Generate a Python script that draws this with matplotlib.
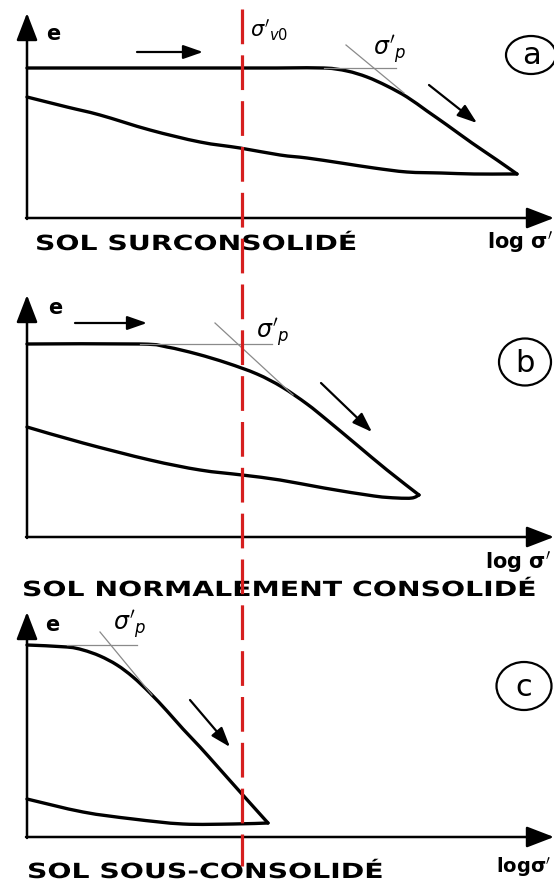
import numpy as np
import matplotlib
matplotlib.use("Agg")
import matplotlib.pyplot as plt
import matplotlib.transforms as mtransforms
from matplotlib import patheffects
from matplotlib.lines import Line2D
from matplotlib.path import Path
from matplotlib.patches import Ellipse, PathPatch

plt.rcParams['font.family'] = ['DejaVu Sans']
plt.rcParams['mathtext.fontset'] = 'dejavusans'
plt.rcParams['lines.scale_dashes'] = False

# x = log sigma' measured from the e axis, e = void ratio above the log sigma' axis
sigma_v0 = 215

# (a) overconsolidated soil
load_a_x = [0, 150, 250, 297, 320, 340, 360, 380, 400, 420, 445, 470, 490]
load_a_e = [150, 150, 150, 150, 147, 141, 132, 121, 107, 93, 75, 58, 44]
unload_a_x = [0, 40, 73, 123, 173, 213, 253, 280, 314, 347, 380, 414, 447, 480, 490]
unload_a_e = [121, 111, 103, 88, 76, 70, 63, 60, 55, 50, 46, 45, 44, 44, 44]
tangent_a = ([319, 377], [173, 125])
plateau_a = ([297, 369], [150, 150])

# (b) normally consolidated soil
load_b_x = [0, 113, 140, 170, 200, 230, 255, 280, 300, 330, 360, 392]
load_b_e = [193, 193, 190, 183, 174, 163, 150, 133, 117, 92, 67, 42]
unload_b_x = [0, 56, 123, 173, 215, 253, 297, 347, 370, 385, 392]
unload_b_e = [110, 94, 77, 67, 62, 57, 49, 41, 39, 39, 42]
tangent_b = ([188, 266], [214, 142])
plateau_b = ([113, 245], [193, 193])

# (c) underconsolidated soil
load_c_x = [0, 40, 56, 73, 90, 106, 123, 140, 156, 173, 190, 206, 223, 241]
load_c_e = [192, 190, 187, 181, 172, 160, 144, 126, 108, 90, 71, 53, 34, 14]
unload_c_x = [0, 56, 106, 156, 206, 241]
unload_c_e = [38, 25, 18, 13, 13, 14]
tangent_c = ([73, 125], [205, 142])
plateau_c = ([40, 110], [192, 192])

W, H = 554, 881
fig = plt.figure(figsize=(W / 100, H / 100), dpi=100)


class Stretch(patheffects.AbstractPathEffect):
    """Widen the glyphs horizontally, keeping the left edge of the text fixed."""

    def __init__(self, sx):
        super().__init__()
        self.sx = sx

    def draw_path(self, renderer, gc, tpath, affine, rgbFace=None):
        x0 = affine.transform((0, 0))[0]
        widen = mtransforms.Affine2D().translate(-x0, 0).scale(self.sx, 1).translate(x0, 0)
        renderer.draw_path(gc, tpath, affine + widen, rgbFace)


def panel(top, bottom, y0):
    # horizontal band of the figure, 1 data unit = 1 pixel, origin on the axes corner
    ax = fig.add_axes([0, 1 - bottom / H, 1, (bottom - top) / H])
    ax.set_xlim(-27, W - 27)
    ax.set_ylim(y0 - bottom, y0 - top)
    ax.axis('off')
    return ax


def smooth(x, e):
    # Catmull-Rom curve through the points, as cubic Bezier segments
    pts = np.column_stack([x, e]).astype(float)
    n = len(pts)
    verts, codes = [pts[0]], [Path.MOVETO]
    for i in range(n - 1):
        p0, p1 = pts[max(i - 1, 0)], pts[i]
        p2, p3 = pts[i + 1], pts[min(i + 2, n - 1)]
        verts += [p1 + (p2 - p0) / 6, p2 - (p3 - p1) / 6, p2]
        codes += [Path.CURVE4] * 3
    return Path(verts, codes)


def frame(ax, e_tip):
    kw = dict(arrowstyle='-|>,head_length=1.3,head_width=0.5', lw=1.8,
              color='black', mutation_scale=13, shrinkA=0, shrinkB=0)
    ax.annotate('', xy=(W - 27, 0), xytext=(-1, 0), arrowprops=kw, annotation_clip=False)
    ax.annotate('', xy=(0, e_tip), xytext=(0, -1), arrowprops=kw, annotation_clip=False)


def curves(ax, lx, le, ux, ue, tangent, plateau):
    ax.plot(*plateau, color='#8a8a8a', lw=0.9)
    ax.plot(*tangent, color='#8a8a8a', lw=0.9)
    for px, pe in [(lx, le), (ux, ue)]:
        ax.add_patch(PathPatch(smooth(px, pe), fill=False, lw=2.4, color='black',
                               capstyle='round', joinstyle='round'))


def arrow(ax, start, end):
    ax.annotate('', xy=end, xytext=start,
                arrowprops=dict(arrowstyle='-|>,head_length=1.0,head_width=0.35', lw=1.6,
                                color='black', mutation_scale=12, shrinkA=0, shrinkB=0))


def tag(ax, xy, w, h, letter):
    ax.add_patch(Ellipse(xy, w, h, fill=False, lw=1.6, color='black', clip_on=False))
    ax.text(xy[0], xy[1] - 1, letter, fontsize=22, ha='center', va='center')


def caption(ax, x, y, s):
    ax.text(x, y, s, fontsize=15, fontweight='bold', ha='left', va='center',
            path_effects=[Stretch(1.36)])


def log_label(ax, x, y, s, size=15):
    ax.text(x, y, s, fontsize=size, fontweight='bold', ha='right', va='center')


ax_a = panel(0, 262, 218)
ax_b = panel(262, 600, 537)
ax_c = panel(600, 881, 837)

# (a)
frame(ax_a, 205)
curves(ax_a, load_a_x, load_a_e, unload_a_x, unload_a_e, tangent_a, plateau_a)
arrow(ax_a, (110, 166), (176, 166))
arrow(ax_a, (402, 133), (450, 95))
ax_a.text(26, 184, 'e', fontsize=15, fontweight='bold', ha='center', va='center')
ax_a.text(223, 188, r"$\sigma'_{v0}$", fontsize=15, ha='left', va='center')
ax_a.text(363, 168, r"$\sigma'_p$", fontsize=17, ha='center', va='center')
tag(ax_a, (504, 163), 50, 38, 'a')
caption(ax_a, 8, -26, 'SOL SURCONSOLIDÉ')
log_label(ax_a, 526, -24, r"log $\mathbf{\sigma'}$")

# (b)
frame(ax_b, 242)
curves(ax_b, load_b_x, load_b_e, unload_b_x, unload_b_e, tangent_b, plateau_b)
arrow(ax_b, (48, 214), (120, 214))
arrow(ax_b, (294, 154), (345, 105))
ax_b.text(28, 229, 'e', fontsize=15, fontweight='bold', ha='center', va='center')
ax_b.text(246, 204, r"$\sigma'_p$", fontsize=17, ha='center', va='center')
tag(ax_b, (498, 175), 52, 47, 'b')
caption(ax_b, -5, -53, 'SOL NORMALEMENT CONSOLIDÉ')
log_label(ax_b, 524, -25, r"log $\mathbf{\sigma'}$")

# (c)
frame(ax_c, 225)
curves(ax_c, load_c_x, load_c_e, unload_c_x, unload_c_e, tangent_c, plateau_c)
arrow(ax_c, (163, 137), (203, 90))
ax_c.text(25, 212, 'e', fontsize=15, fontweight='bold', ha='center', va='center')
ax_c.text(103, 212, r"$\sigma'_p$", fontsize=17, ha='center', va='center')
tag(ax_c, (497, 151), 55, 48, 'c')
caption(ax_c, 0, -35, 'SOL SOUS-CONSOLIDÉ')
log_label(ax_c, 524, -30, r"log$\mathbf{\sigma'}$", size=14)

# in-situ effective stress line running through the three diagrams
trans = mtransforms.blended_transform_factory(ax_a.transData, fig.transFigure)
fig.add_artist(Line2D([sigma_v0, sigma_v0], [1 - 9 / H, 1 - 866 / H], transform=trans,
                      color='#d61f1f', lw=2.3, linestyle=(0, (25, 8))))

fig.savefig('out.png', dpi=100)
